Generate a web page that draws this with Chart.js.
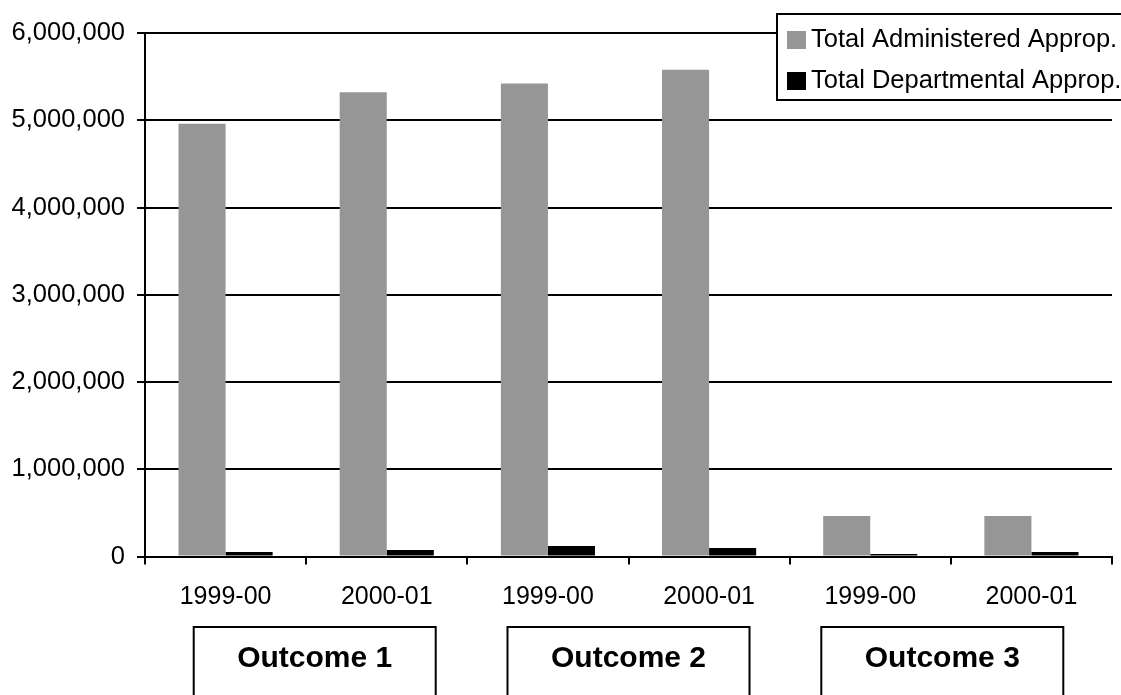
<!DOCTYPE html>
<html>
<head>
<meta charset="utf-8">
<script src="https://cdn.jsdelivr.net/npm/chart.js@4"></script>
<style>
  html, body { margin: 0; padding: 0; background: #fff; }
  #wrap { width: 1121px; height: 695px; }
</style>
</head>
<body>
<div id="wrap"><canvas id="approChart"></canvas></div>
<script>
const years = ['1999-00', '2000-01', '1999-00', '2000-01', '1999-00', '2000-01'];
const outcomes = ['Outcome 1', 'Outcome 2', 'Outcome 3'];
const administered = [4960000, 5320000, 5420000, 5580000, 465000, 465000];
const departmental = [52000, 74000, 120000, 97000, 29000, 52000];
const seriesNames = ['Total Administered Approp.', 'Total Departmental Approp.'];
const seriesColours = ['#969696', '#000000'];

const FONT = "'Liberation Sans', Arial, sans-serif";

// boxes with the outcome names, spread evenly round the middle of the plot
const outcomeBoxes = {
    id: 'outcomeBoxes',
    afterDraw(chart) {
        const ctx = chart.ctx;
        const area = chart.chartArea;
        const centre = (area.left + area.right) / 2;
        const step = (area.right - area.left) * 0.3245;
        ctx.save();
        ctx.lineWidth = 2;
        ctx.strokeStyle = '#000';
        ctx.fillStyle = '#000';
        ctx.font = `bold 30px ${FONT}`;
        ctx.textAlign = 'center';
        ctx.textBaseline = 'middle';
        outcomes.forEach((name, i) => {
            const mid = centre + (i - 1) * step;
            ctx.strokeRect(mid - 121, 627, 242, 80);
            ctx.fillText(name, mid, 659);
        });
        ctx.restore();
    }
};

// legend box in the top right corner
const cornerLegend = {
    id: 'cornerLegend',
    afterDraw(chart) {
        const ctx = chart.ctx;
        ctx.save();
        ctx.fillStyle = '#fff';
        ctx.fillRect(777, 14, 360, 86);
        ctx.lineWidth = 2;
        ctx.strokeStyle = '#000';
        ctx.strokeRect(777, 14, 360, 86);
        ctx.font = `25.5px ${FONT}`;
        ctx.textBaseline = 'alphabetic';
        ctx.textAlign = 'left';
        seriesNames.forEach((name, i) => {
            const y = 31 + i * 41;
            ctx.fillStyle = seriesColours[i];
            ctx.fillRect(787, y, 19, 18);
            ctx.fillStyle = '#000';
            ctx.fillText(name, 811, y + 16);
        });
        ctx.restore();
    }
};

new Chart(document.getElementById('approChart'), {
    type: 'bar',
    data: {
        labels: years,
        datasets: [{
            label: seriesNames[0],
            data: administered,
            backgroundColor: seriesColours[0],
            categoryPercentage: 0.584,
            barPercentage: 1
        }, {
            label: seriesNames[1],
            data: departmental,
            backgroundColor: seriesColours[1],
            categoryPercentage: 0.584,
            barPercentage: 1
        }]
    },
    options: {
        responsive: true,
        maintainAspectRatio: false,
        animation: false,
        layout: {
            padding: { left: 0, right: 9, top: 33, bottom: 0 }
        },
        plugins: {
            legend: { display: false },
            tooltip: { enabled: false }
        },
        scales: {
            x: {
                afterFit: (s) => { s.height = 138.5; },
                grid: {
                    display: true,
                    drawOnChartArea: false,
                    drawTicks: true,
                    tickLength: 8,
                    color: '#000',
                    lineWidth: 2,
                    offset: true
                },
                border: { display: true, color: '#000', width: 2 },
                ticks: {
                    color: '#000',
                    font: { family: FONT, size: 25 },
                    padding: 18,
                    maxRotation: 0,
                    autoSkip: false
                }
            },
            y: {
                min: 0,
                max: 6000000,
                afterFit: (s) => { s.width = 145; },
                grid: {
                    color: '#000',
                    lineWidth: 2,
                    tickLength: 8,
                    drawTicks: true
                },
                border: { display: true, color: '#000', width: 2 },
                ticks: {
                    stepSize: 1000000,
                    color: '#000',
                    padding: 12,
                    font: { family: FONT, size: 25.5 },
                    callback: (v) => v.toLocaleString('en-US')
                }
            }
        }
    },
    plugins: [outcomeBoxes, cornerLegend]
});
</script>
</body>
</html>
